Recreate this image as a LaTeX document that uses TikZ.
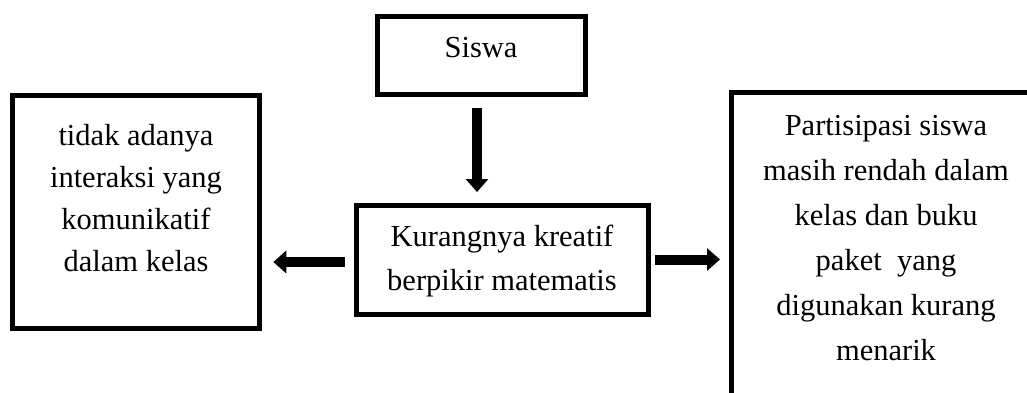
\documentclass[tikz,border=0pt]{standalone}
\usepackage{fontspec}
\setmainfont{Liberation Serif}
\usetikzlibrary{arrows.meta}
\newcommand{\boxtext}[5]{\parbox[c][#2][t]{#1}{\fontsize{30.5}{#4}\selectfont\centering\rule{0pt}{#3}#5\par}}
\tikzset{
  box/.style={draw, line width=5pt, inner sep=0pt, outer sep=0pt, fill=white},
  arr/.style={line width=10pt, -{Triangle[width=22pt,length=13pt]}}
}
\begin{document}
\begin{tikzpicture}[x=1pt,y=-1pt]
\path[use as bounding box, fill=white] (0,0) rectangle (1027,392);
\clip (0,0) rectangle (1027,392);
\node[box] (siswa) at (481,55.25) {\boxtext{208pt}{77.5pt}{41pt}{44pt}{Siswa}};
\node[box] (left) at (136,211.5) {\boxtext{246.5pt}{233pt}{50pt}{42pt}{tidak adanya\\ interaksi yang\\ komunikatif\\ dalam kelas}};
\node[box] (mid) at (502,259.5) {\boxtext{292pt}{109pt}{41.7pt}{43.3pt}{Kurangnya kreatif\\ berpikir matematis}};
\node[box] (right) at (886,252.5) {\boxtext{310pt}{320pt}{42.5pt}{45pt}{Partisipasi siswa\\ masih rendah dalam\\ kelas dan buku\\ paket\ \ yang\\ digunakan kurang\\ menarik}};
\draw[arr, shorten <=14pt, shorten >=13pt] ([xshift=-4pt]siswa.south) -- ([xshift=-4pt]siswa.south |- mid.north);
\draw[arr, shorten <=11pt, shorten >=14pt] ([yshift=-2.5pt]mid.west) -- ([yshift=-2.5pt]mid.west -| left.east);
\draw[arr, shorten <=7pt, shorten >=11pt] (mid.east) -- (mid.east -| right.west);
\end{tikzpicture}
\end{document}
